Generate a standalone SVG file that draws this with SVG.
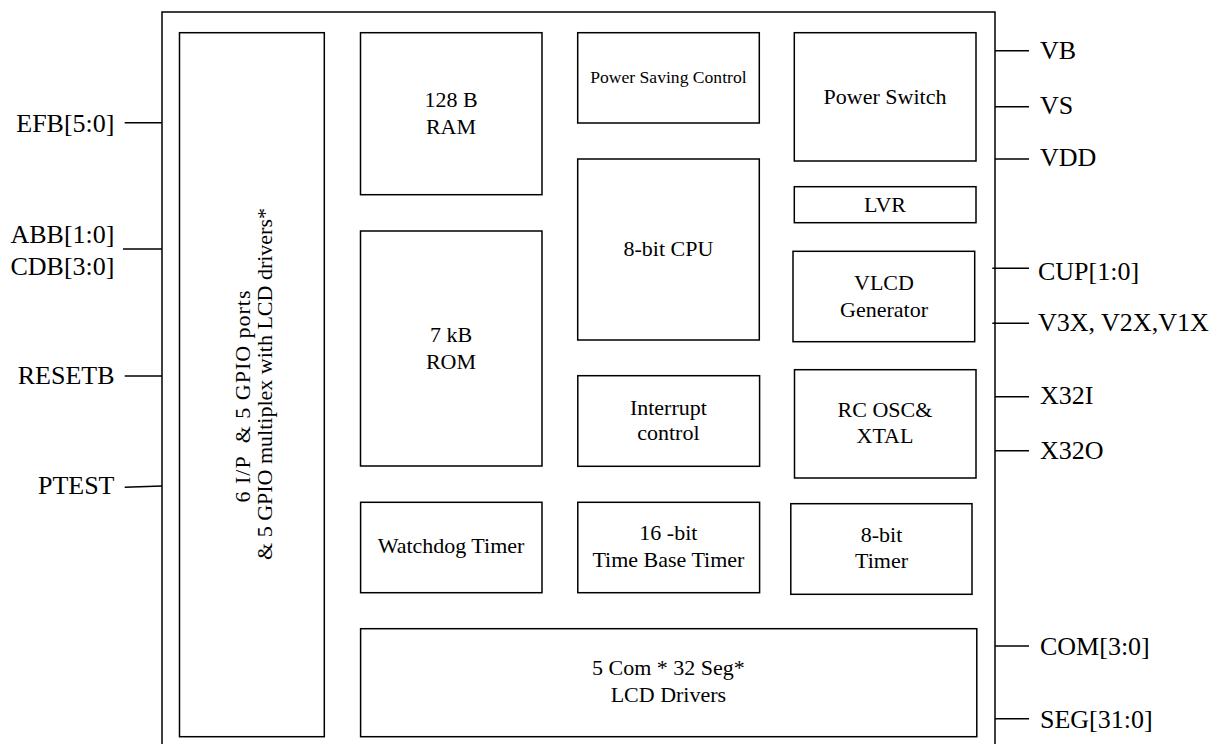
<svg xmlns="http://www.w3.org/2000/svg" width="1224" height="744" viewBox="0 0 1224 744" font-family="'Liberation Serif', 'Times New Roman', serif">
<style>
rect{fill:none;stroke:#000;stroke-width:1.5}
line{stroke:#000;stroke-width:1.5}
text{font-family:"Liberation Serif","Times New Roman",serif;fill:#000}
.pin{font-size:26px}
.lr{text-anchor:end}
.blk{font-size:22px;text-anchor:middle}
</style>
<rect x="0" y="0" width="1224" height="744" style="fill:#fff;stroke:none"/>
<g id="chip"><rect x="162" y="12" width="833" height="760"/></g>
<g id="gpio"><rect x="179.5" y="32.7" width="144.8" height="704"/>
<text class="blk" xml:space="preserve" textLength="212" lengthAdjust="spacing" transform="translate(250,396.5) rotate(-90)">6 I/P  &amp; 5 GPIO ports</text>
<text class="blk" transform="translate(271.5,384) rotate(-90)">&amp; 5 GPIO multiplex with LCD drivers*</text></g>
<g id="ram"><rect x="360.5" y="32.7" width="181.5" height="162"/>
<text class="blk" x="451" y="107.3">128 B</text><text class="blk" x="451" y="134">RAM</text></g>
<g id="rom"><rect x="360.5" y="231" width="181.5" height="235"/>
<text class="blk" x="451" y="342.3">7 kB</text><text class="blk" x="451" y="369">ROM</text></g>
<g id="psc"><rect x="577.7" y="32.7" width="181.6" height="90.3"/>
<text class="blk" style="font-size:17.6px" x="668.4" y="82.7">Power Saving Control</text></g>
<g id="cpu"><rect x="577.7" y="159" width="181.6" height="181"/>
<text class="blk" x="668.4" y="256">8-bit CPU</text></g>
<g id="intr"><rect x="577.8" y="375.7" width="181.8" height="90.6"/>
<text class="blk" x="668.4" y="415">Interrupt</text><text class="blk" x="668.4" y="440">control</text></g>
<g id="pswitch"><rect x="794.3" y="32.7" width="181.7" height="128.3"/>
<text class="blk" x="885" y="104">Power Switch</text></g>
<g id="lvr"><rect x="794.3" y="186.7" width="181.7" height="36"/>
<text class="blk" x="885" y="212">LVR</text></g>
<g id="vlcd"><rect x="793" y="251.3" width="181.7" height="90.4"/>
<text class="blk" x="884" y="290">VLCD</text><text class="blk" x="884" y="316.7">Generator</text></g>
<g id="rcosc"><rect x="794.5" y="369.7" width="181.5" height="108.3"/>
<text class="blk" x="885" y="417.3">RC OSC&amp;</text><text class="blk" x="885" y="443.3">XTAL</text></g>
<g id="wdt"><rect x="360.6" y="502.3" width="181.4" height="90.4"/>
<text class="blk" x="451" y="553.3">Watchdog Timer</text></g>
<g id="tbt"><rect x="577.8" y="502.3" width="181.8" height="90.4"/>
<text class="blk" x="668.4" y="540">16 -bit</text><text class="blk" x="668.4" y="566.7">Time Base Timer</text></g>
<g id="timer8"><rect x="790.8" y="503.7" width="181.2" height="90.6"/>
<text class="blk" x="881.5" y="541.7">8-bit</text><text class="blk" x="881.5" y="568.3">Timer</text></g>
<g id="lcd"><rect x="360.6" y="628.7" width="616.2" height="108"/>
<text class="blk" x="668.4" y="675">5 Com * 32 Seg*</text><text class="blk" x="668.4" y="702.3">LCD Drivers</text></g>
<g id="connectors">
<line x1="124.7" y1="122.7" x2="162" y2="122.7"/>
<line x1="123" y1="249" x2="162" y2="249"/>
<line x1="124.7" y1="376" x2="162" y2="376"/>
<line x1="124.7" y1="487.3" x2="162" y2="486"/>
<line x1="995" y1="50.7" x2="1029" y2="50.7"/>
<line x1="995" y1="106.7" x2="1029" y2="106.7"/>
<line x1="995" y1="159" x2="1029" y2="159"/>
<line x1="992.3" y1="268.3" x2="1029" y2="268.3"/>
<line x1="992.3" y1="323.2" x2="1029" y2="323.2"/>
<line x1="995" y1="396.7" x2="1029" y2="396.7"/>
<line x1="995" y1="450.7" x2="1029" y2="450.7"/>
<line x1="995" y1="646" x2="1029" y2="646"/>
<line x1="995" y1="718.7" x2="1029" y2="718.7"/>
</g>
<g id="pins">
<text class="pin lr" x="114.5" y="131.5">EFB[5:0]</text>
<text class="pin lr" x="114.5" y="242.5">ABB[1:0]</text>
<text class="pin lr" x="114.5" y="275">CDB[3:0]</text>
<text class="pin lr" x="114.5" y="383.5">RESETB</text>
<text class="pin lr" x="114.5" y="493.5">PTEST</text>
<text class="pin" x="1040" y="58.5">VB</text>
<text class="pin" x="1040" y="113.5">VS</text>
<text class="pin" x="1040" y="166">VDD</text>
<text class="pin" x="1038" y="279.5">CUP[1:0]</text>
<text class="pin" x="1038" y="331">V3X, V2X,V1X</text>
<text class="pin" x="1040" y="404">X32I</text>
<text class="pin" x="1040" y="459">X32O</text>
<text class="pin" x="1040" y="655">COM[3:0]</text>
<text class="pin" x="1040" y="728">SEG[31:0]</text>
</g>
</svg>
